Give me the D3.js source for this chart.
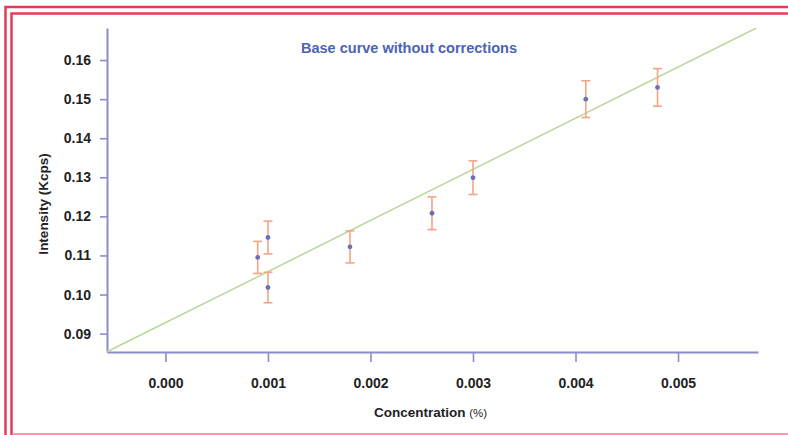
<!DOCTYPE html>
<html>
<head>
<meta charset="utf-8">
<script src="https://cdn.jsdelivr.net/npm/d3@7/dist/d3.min.js"></script>
<style>
  html, body { margin: 0; padding: 0; background: #fff; }
  svg text { font-family: "Liberation Sans", Arial, sans-serif; }
</style>
</head>
<body>
<div id="chart"></div>
<script>
// measured points (concentration %, intensity Kcps, error +/-)
var concentration = [0.0009, 0.0010, 0.0010, 0.0018, 0.0026, 0.0030, 0.0041, 0.0048];
var intensity     = [0.1095, 0.1146, 0.1018, 0.1122, 0.1208, 0.1299, 0.1500, 0.1530];
var errorBar      = [0.0041, 0.0042, 0.0039, 0.0041, 0.0042, 0.0043, 0.0047, 0.0048];

// fitted base curve y = a + b*x
var fitA = 0.0928;
var fitB = 13.08;
var fitX = [-0.00057, 0.00576];

var xTicks = [0, 0.001, 0.002, 0.003, 0.004, 0.005];
var yTicks = [0.09, 0.10, 0.11, 0.12, 0.13, 0.14, 0.15, 0.16];

var xDomain = [-0.00057, 0.00578];
var yDomain = [0.0853, 0.1682];

var chartTitle = "Base curve without corrections";

var w = 788, h = 435;
var axisCol = "#8a8ccc";

var svg = d3.select("#chart").append("svg")
    .attr("width", w)
    .attr("height", h);

// frame (double red line top / left, thin pink bottom)
var red = "#e23d5a";
svg.append("path").attr("d", "M5.5,435 V7 H788").attr("fill", "none")
    .attr("stroke", red).attr("stroke-width", 2.5);
svg.append("path").attr("d", "M11.5,435 V13.5 H788").attr("fill", "none")
    .attr("stroke", red).attr("stroke-width", 2.5);
svg.append("line").attr("x1", 12).attr("x2", 788).attr("y1", 434).attr("y2", 434)
    .attr("stroke", "#ea7c92").attr("stroke-width", 1.5);

var x = d3.scaleLinear().domain(xDomain).range([107, 758]);
var y = d3.scaleLinear().domain(yDomain).range([352, 28]);

// axes
var yAxis = svg.append("g")
    .attr("transform", "translate(107,0)")
    .call(d3.axisLeft(y).tickValues(yTicks).tickFormat(d3.format(".2f"))
        .tickSize(7).tickSizeOuter(0).tickPadding(9));

var xAxis = svg.append("g")
    .attr("transform", "translate(0,352)")
    .call(d3.axisBottom(x).tickValues(xTicks).tickFormat(d3.format(".3f"))
        .tickSize(10).tickSizeOuter(0).tickPadding(16));

[xAxis, yAxis].forEach(function (g) {
    g.select(".domain").attr("stroke", axisCol).attr("stroke-width", 2);
    g.selectAll(".tick line").attr("stroke", axisCol).attr("stroke-width", 1.6);
    g.selectAll(".tick text")
        .attr("fill", "#222")
        .attr("font-size", "14px")
        .attr("font-weight", "bold")
        .style("font-family", "'Liberation Sans', Arial, sans-serif");
});

// fit line
var line = d3.line()
    .x(function (d) { return x(d); })
    .y(function (d) { return y(fitA + fitB * d); });

svg.append("path")
    .datum(fitX)
    .attr("d", line)
    .attr("fill", "none")
    .attr("stroke", "#bcd99a")
    .attr("stroke-width", 1.6);

// error bars
var data = concentration.map(function (c, i) {
    return { x: c, y: intensity[i], e: errorBar[i] };
});

var eb = svg.append("g").attr("stroke", "#f2a585").attr("stroke-width", 1.6);
eb.selectAll("line.v").data(data).enter().append("line")
    .attr("class", "v")
    .attr("x1", function (d) { return x(d.x); })
    .attr("x2", function (d) { return x(d.x); })
    .attr("y1", function (d) { return y(d.y + d.e); })
    .attr("y2", function (d) { return y(d.y - d.e); });
eb.selectAll("line.t").data(data).enter().append("line")
    .attr("class", "t")
    .attr("x1", function (d) { return x(d.x) - 4.5; })
    .attr("x2", function (d) { return x(d.x) + 4.5; })
    .attr("y1", function (d) { return y(d.y + d.e); })
    .attr("y2", function (d) { return y(d.y + d.e); });
eb.selectAll("line.b").data(data).enter().append("line")
    .attr("class", "b")
    .attr("x1", function (d) { return x(d.x) - 4.5; })
    .attr("x2", function (d) { return x(d.x) + 4.5; })
    .attr("y1", function (d) { return y(d.y - d.e); })
    .attr("y2", function (d) { return y(d.y - d.e); });

// points
svg.selectAll("circle").data(data).enter().append("circle")
    .attr("cx", function (d) { return x(d.x); })
    .attr("cy", function (d) { return y(d.y); })
    .attr("r", 2.4)
    .attr("fill", "#6a70b8");

// title
svg.append("text")
    .attr("x", 409)
    .attr("y", 52.5)
    .attr("text-anchor", "middle")
    .attr("font-size", "14.5px")
    .attr("font-weight", "bold")
    .attr("fill", "#4a64b4")
    .text(chartTitle);

// x axis title
var xt = svg.append("text")
    .attr("x", 430.5)
    .attr("y", 416.5)
    .attr("text-anchor", "middle")
    .attr("fill", "#222");
xt.append("tspan").attr("font-size", "13.5px").attr("font-weight", "bold").text("Concentration ");
xt.append("tspan").attr("font-size", "11.5px").text("(%)");

// y axis title
svg.append("text")
    .attr("transform", "translate(47.5,204) rotate(-90)")
    .attr("text-anchor", "middle")
    .attr("font-size", "13.5px")
    .attr("font-weight", "bold")
    .attr("fill", "#222")
    .text("Intensity (Kcps)");
</script>
</body>
</html>
